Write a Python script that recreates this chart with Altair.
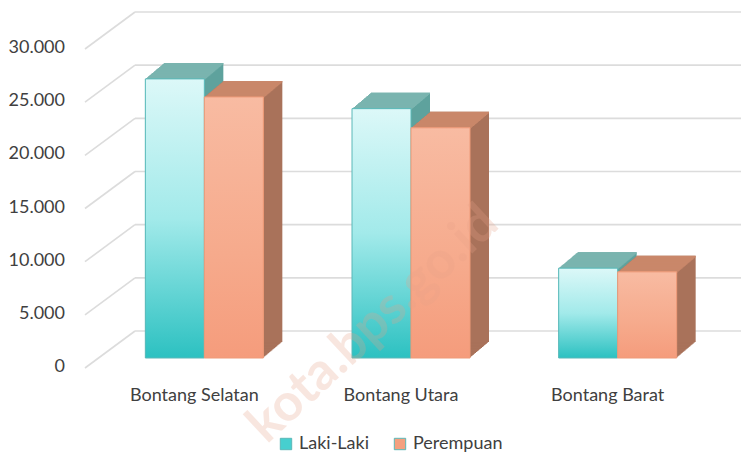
import altair as alt
import pandas as pd

# ---- data ----
kecamatan = ["Bontang Selatan", "Bontang Utara", "Bontang Barat"]
laki_laki = [26250, 23450, 8450]
perempuan = [24550, 21650, 8100]
series = ["Laki-Laki", "Perempuan"]
tick_values = [0, 5000, 10000, 15000, 20000, 25000, 30000]
tick_labels = ["0", "5.000", "10.000", "15.000", "20.000", "25.000", "30.000"]

rows = []
for k, a, b in zip(kecamatan, laki_laki, perempuan):
    rows.append({"Kecamatan": k, "Jenis": series[0], "Jumlah": a})
    rows.append({"Kecamatan": k, "Jenis": series[1], "Jumlah": b})
df = pd.DataFrame(rows)
ticks_df = pd.DataFrame({"v": tick_values, "lab": tick_labels})
cat_df = pd.DataFrame({"Kecamatan": kecamatan})

FONT = "Lato"
W, H = 620, 319
BW = 59  # bar width px
yscale = alt.Scale(domain=[0, 30000], nice=False, zero=True)
xenc = alt.X("Kecamatan:N", sort=kecamatan, axis=None,
             scale=alt.Scale(domain=kecamatan, paddingInner=0.43, paddingOuter=0.215))
yenc = alt.Y("Jumlah:Q", scale=yscale, axis=None)

STYLE = {
    "Laki-Laki": dict(shift=-BW / 2, side="#5ea29d", top="#7ab4af", stroke="#5ab8b8",
                      grad=[("#dcf8f8", 0), ("#a2eaea", 0.5), ("#2cc1c1", 1)]),
    "Perempuan": dict(shift=BW / 2, side="#a9725a", top="#c9876a", stroke="#ee9a78",
                      grad=[("#f8bba2", 0), ("#f6aa8c", 0.6), ("#f59c7c", 1)]),
}

layers = []

# back-wall gridlines
layers.append(
    alt.Chart(ticks_df).mark_rule(color="#dcdcdc", strokeWidth=1.6, yOffset=-27)
    .encode(y=alt.Y("v:Q", scale=yscale, axis=None), x=alt.value(34), x2=alt.value(660))
)
# diagonal floor/side lines
layers.append(
    alt.Chart(ticks_df).mark_rule(color="#dcdcdc", strokeWidth=1.6, yOffset=10, y2Offset=-27)
    .encode(y=alt.Y("v:Q", scale=yscale, axis=None), y2="v:Q", x=alt.value(-16), x2=alt.value(34))
)
# y labels
layers.append(
    alt.Chart(ticks_df).mark_text(align="right", baseline="middle", font=FONT, fontSize=18,
                                  color="#404040", yOffset=9)
    .encode(y=alt.Y("v:Q", scale=yscale, axis=None), x=alt.value(-36), text="lab:N")
)

DX, DY = 19, 16
N = DX
for s in series:
    st = STYLE[s]
    sub = alt.Chart(df).transform_filter(alt.datum.Jenis == s)
    # side faces (extrusion)
    for i in range(1, N + 1):
        layers.append(
            sub.mark_bar(width=BW, xOffset=st["shift"] + i, yOffset=-i * DY / DX, color=st["side"])
            .encode(x=xenc, y=yenc)
        )
for s in series:
    st = STYLE[s]
    sub = alt.Chart(df).transform_filter(alt.datum.Jenis == s)
    # top faces
    for i in range(1, N + 1):
        layers.append(
            sub.mark_bar(width=BW, xOffset=st["shift"] + i, yOffset=-i * DY / DX,
                         y2Offset=-i * DY / DX + 1.6, color=st["top"])
            .encode(x=xenc, y=yenc, y2="Jumlah:Q")
        )

# front faces (solid, gives legend)
for s in series:
    st = STYLE[s]
    layers.append(
        alt.Chart(df).transform_filter(alt.datum.Jenis == s)
        .mark_bar(width=BW, xOffset=st["shift"])
        .encode(x=xenc, y=yenc,
                color=alt.Color("Jenis:N", sort=series,
                                scale=alt.Scale(domain=series, range=["#47cfcf", "#f4a07f"]),
                                legend=alt.Legend(title=None, orient="none", direction="horizontal",
                                                  legendX=176, legendY=396, symbolType="square",
                                                  symbolSize=130, symbolStrokeColor="#5ab8b8",
                                                  symbolStrokeWidth=1, labelFont=FONT,
                                                  labelFontSize=18, labelColor="#404040",
                                                  columnPadding=22, labelOffset=4)))
    )
for s in series:
    st = STYLE[s]
    grad = alt.Gradient(gradient="linear", x1=0, y1=0, x2=0, y2=1,
                        stops=[alt.GradientStop(color=c, offset=o) for c, o in st["grad"]])
    layers.append(
        alt.Chart(df).transform_filter(alt.datum.Jenis == s)
        .mark_bar(width=BW, xOffset=st["shift"], fill=grad, stroke=st["stroke"], strokeWidth=1)
        .encode(x=xenc, y=yenc)
    )

# category labels
layers.append(
    alt.Chart(cat_df).mark_text(font=FONT, fontSize=18, color="#404040", dx=-10, baseline="middle")
    .encode(x=xenc, y=alt.value(357), text="Kecamatan:N")
)

# watermark
layers.append(
    alt.Chart(cat_df.head(1)).mark_text(font=FONT, fontSize=52, fontWeight="bold", color="#e8a288",
                                        opacity=0.26, angle=317, align="center", baseline="middle")
    .encode(x=alt.value(272), y=alt.value(285), text=alt.value("kota.bps.go.id"))
)

chart = alt.layer(*layers).properties(
    width=W, height=H,
    autosize=alt.AutoSizeParams(type="none"),
    padding={"left": 93, "top": 31, "right": 20, "bottom": 96},
).configure_view(stroke=None)

chart.save("out.html", embed_options={"renderer": "svg", "actions": False})
